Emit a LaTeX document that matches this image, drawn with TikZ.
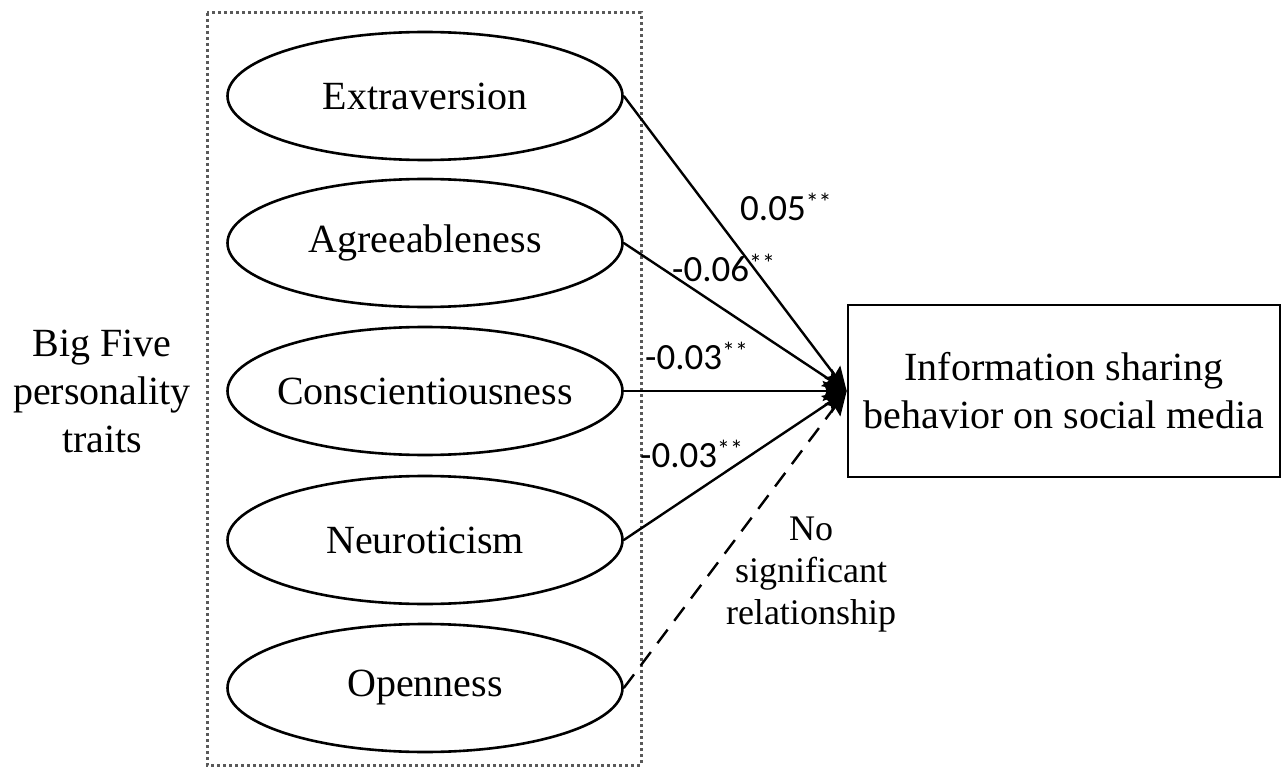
\documentclass[tikz,border=0pt]{standalone}
\usepackage{fontspec}
\setmainfont{Liberation Serif}
\newfontfamily\lab{Carlito}
\usetikzlibrary{shapes.geometric,arrows.meta}
\tikzset{
  trait/.style={ellipse, draw, line width=2.6pt, minimum width=395pt, minimum height=128pt, inner sep=0pt},
  ttext/.style={font=\fontsize{40}{48}\selectfont, inner sep=0pt},
  outbox/.style={draw, line width=2.6pt, minimum width=432pt, minimum height=172pt, inner sep=0pt, align=center, font=\fontsize{40}{48}\selectfont},
  arr/.style={line width=2.4pt, -{Stealth[length=24pt, width=20pt, inset=4pt]}},
  coef/.style={anchor=west, inner sep=0pt, font=\lab\fontsize{37}{40}\selectfont},
  note/.style={align=center, inner sep=0pt, font=\fontsize{36}{42}\selectfont},
  frame/.style={draw=black!65, line width=3pt, dash pattern=on 3pt off 3pt}
}
\begin{document}
\begin{tikzpicture}[x=1pt, y=-1pt]
\useasboundingbox (0,0) rectangle (1288,770);
\draw[frame] (207,13) rectangle (641,765);
\node[note, font=\fontsize{40}{48}\selectfont] (big) at (102,391) {Big Five\\personality\\traits};
\node[trait] (e1) at (425,96) {};
\node[trait] (e2) at (425,243) {};
\node[trait] (e3) at (425,391) {};
\node[trait] (e4) at (425,540) {};
\node[trait] (e5) at (425,688) {};
\node[ttext] (t1) at (e1) {Extraversion};
\node[ttext] (t2) at (e2) {Agreeableness};
\node[ttext] (t3) at (e3) {Conscientiousness};
\node[ttext] (t4) at (e4) {Neuroticism};
\node[ttext] (t5) at (e5) {Openness};
\node[outbox] (tgt) at (1064,391) {Information sharing\\behavior on social media};
\draw[arr] (e1.east) -- (tgt.west);
\draw[arr] (e2.east) -- (tgt.west);
\draw[arr] (e3.east) -- (tgt.west);
\draw[arr] (e4.east) -- (tgt.west);
\draw[arr, dash pattern=on 17pt off 11pt] (e5.east) -- (tgt.west);
\node[coef] (c1) at (740,207) {0.05\textsuperscript{**}};
\node[coef] (c2) at (672,268) {-0.06\textsuperscript{**}};
\node[coef] (c3) at (645,356) {-0.03\textsuperscript{**}};
\node[coef] (c4) at (640,454) {-0.03\textsuperscript{**}};
\node[note] (ns) at (811,575) {No\\significant\\relationship};
\end{tikzpicture}
\end{document}
